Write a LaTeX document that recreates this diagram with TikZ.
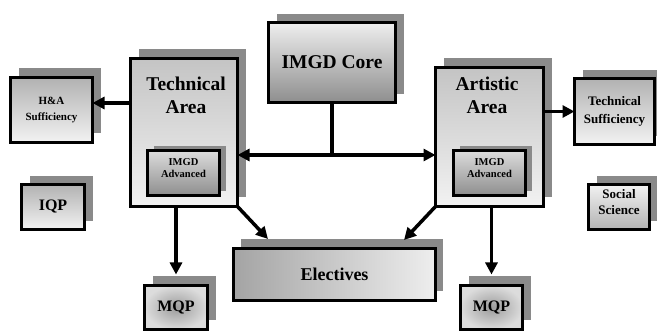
\documentclass[tikz,border=0pt]{standalone}
\usepackage{fontspec}
\setmainfont{Liberation Serif}
\usetikzlibrary{arrows.meta}

\definecolor{shadowgray}{HTML}{8A8A8A}
\definecolor{lightA}{HTML}{EEEEEE}
\definecolor{darkA}{HTML}{8E8E8E}
\definecolor{areaTop}{HTML}{C4C4C4}
\definecolor{areaBot}{HTML}{F2F2F2}
\definecolor{sideDark}{HTML}{B2B2B2}
\definecolor{sideLight}{HTML}{F2F2F2}
\definecolor{advTop}{HTML}{DCDCDC}
\definecolor{advBot}{HTML}{8E8E8E}
\definecolor{elecLeft}{HTML}{A4A4A4}
\definecolor{elecRight}{HTML}{EEEEEE}
\definecolor{mqpIn}{HTML}{9C9C9C}
\definecolor{mqpOut}{HTML}{DCDCDC}

% a box with its solid shadow offset up and to the right
\newcommand\shadowedbox[7]{%
  \node[shadowrect, minimum width=#3, minimum height=#4] (#1-sh) at ([shift={#5}]#2) {};
  \node[boxframe, #6, minimum width=#3, minimum height=#4] (#1) at (#2) {#7};
}

\begin{document}
\begin{tikzpicture}[x=1pt, y=-1pt,
  shadowrect/.style={rectangle, fill=shadowgray, inner sep=0pt, outer sep=0pt},
  boxframe/.style={rectangle, draw=black, line width=3.5pt, inner sep=0pt, outer sep=0pt,
    align=center, font=\bfseries},
  coreshade/.style={shading angle=45, top color=lightA, bottom color=darkA},
  areashade/.style={top color=areaTop, bottom color=areaBot, line width=3pt},
  sideshade/.style={shading angle=45, top color=sideDark, bottom color=sideLight},
  socialshade/.style={shading angle=-45, top color=sideLight, bottom color=sideDark},
  advshade/.style={top color=advTop, bottom color=advBot},
  elecshade/.style={left color=elecLeft, right color=elecRight},
  mqpshade/.style={inner color=mqpIn, outer color=mqpOut},
  big/.style={font=\fontsize{19.5}{23}\selectfont\bfseries, align=center, inner sep=0pt},
  flow/.style={line width=3.5pt, -{Triangle[length=12pt, width=12pt]}},
  flowboth/.style={line width=3.5pt, {Triangle[length=12pt, width=12pt]}-{Triangle[length=12pt, width=12pt]}}
]
\useasboundingbox (0,0) rectangle (657,331);

% main areas
\shadowedbox{core}{332,62.5}{127pt}{80pt}{(8,-8)}{coreshade, font=\fontsize{19.5}{23}\selectfont\bfseries}{IMGD Core}
\shadowedbox{tech}{184,132.5}{107pt}{148pt}{(8,-9)}{areashade}{}
\shadowedbox{art}{489.5,137}{108pt}{139pt}{(8,-9)}{areashade}{}
\node[big] (tech-label) at (186,95) {Technical\\Area};
\node[big] (art-label) at (487,95) {Artistic\\Area};

% advanced blocks inside the areas
\shadowedbox{advL}{183.5,173}{72pt}{45pt}{(6,-4)}{advshade}{}
\shadowedbox{advR}{489.5,173}{72pt}{45pt}{(6,-4)}{advshade}{}
\node[font=\fontsize{10.5}{12}\selectfont\bfseries, align=center] (advL-label) at (183.5,168) {IMGD\\Advanced};
\node[font=\fontsize{10.5}{12}\selectfont\bfseries, align=center] (advR-label) at (489.5,168) {IMGD\\Advanced};

% side requirements
\shadowedbox{ha}{51.5,110}{82pt}{65pt}{(8,-9)}{sideshade, font=\fontsize{11}{16}\selectfont\bfseries}{H\&A\\Sufficiency}
\shadowedbox{ts}{614.5,111.5}{80pt}{66pt}{(8,-8)}{sideshade, font=\fontsize{13}{18}\selectfont\bfseries}{Technical\\Sufficiency}
\shadowedbox{iqp}{53,207}{63pt}{45pt}{(8,-8)}{sideshade, font=\fontsize{16}{18}\selectfont\bfseries}{IQP}
\shadowedbox{soc}{619,207}{61pt}{45pt}{(8,-8)}{socialshade}{}
\node[font=\fontsize{13}{16}\selectfont\bfseries, align=center] (soc-label) at (619,202) {Social\\Science};

% electives and projects
\shadowedbox{elec}{334.5,274.5}{202pt}{52pt}{(7,-9)}{elecshade, font=\fontsize{18}{20}\selectfont\bfseries}{Electives}
\shadowedbox{mqpL}{176,307.5}{63pt}{44pt}{(8,-9)}{mqpshade, font=\fontsize{16}{18}\selectfont\bfseries}{MQP}
\shadowedbox{mqpR}{491.5,307.5}{62pt}{44pt}{(8,-9)}{mqpshade, font=\fontsize{16}{18}\selectfont\bfseries}{MQP}

% connectors
\coordinate (split) at (332,155);
\coordinate (haLevel) at (0,103);
\coordinate (elecL) at (268,239);
\coordinate (elecR) at (404,240);
\draw[line width=3.5pt] (core.south) -- (split);
\draw[flowboth] (tech.east |- split) -- (art.west |- split);
\draw[flow] (tech.west |- haLevel) -- (ha.east |- haLevel);
\draw[flow] (art.east |- ts.west) -- (ts.west);
\draw[flow] (mqpL.north |- tech.south) -- ([yshift=11pt]mqpL.north);
\draw[flow] (mqpR.north |- art.south) -- ([yshift=11pt]mqpR.north);
\draw[flow] (tech.south east) -- (elecL);
\draw[flow] (art.south west) -- (elecR);
\end{tikzpicture}
\end{document}
